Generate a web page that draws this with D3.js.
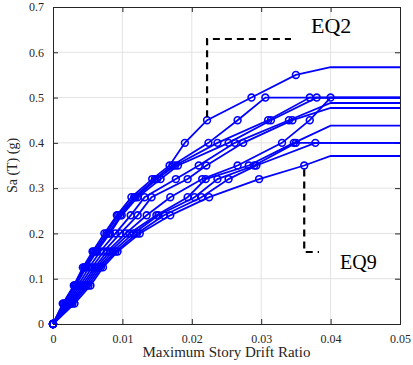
<!DOCTYPE html>
<html>
<head>
<meta charset="utf-8">
<script src="https://cdn.jsdelivr.net/npm/d3@7"></script>
<style>
  body { margin: 0; background: #fff; }
  svg { display: block; font-family: "Liberation Serif", "Times New Roman", serif; }
</style>
</head>
<body>
<svg id="chart" width="413" height="365"></svg>
<script>
// Sa levels of the incremental dynamic analysis
const saLevels = [0, 0.045, 0.085, 0.125, 0.16, 0.2, 0.24, 0.28, 0.32, 0.35, 0.4, 0.45, 0.5, 0.55];

// drift ratio per record at each Sa level
const eq2  = [0, 0.0014, 0.0030, 0.0043, 0.0057, 0.0074, 0.0092, 0.0113, 0.0143, 0.0168, 0.0190, 0.0222, 0.0286, 0.0350];
const rec2 = [0, 0.0015, 0.0031, 0.0045, 0.0059, 0.0077, 0.0094, 0.0117, 0.0147, 0.0172, 0.0224, 0.0266, 0.0306];
const rec3 = [0, 0.0015, 0.0032, 0.0046, 0.0061, 0.0080, 0.0097, 0.0119, 0.0150, 0.0176, 0.0237, 0.0310, 0.0370];
const rec4 = [0, 0.0016, 0.0033, 0.0048, 0.0063, 0.0082, 0.0099, 0.0122, 0.0155, 0.0180, 0.0253, 0.0314, 0.0380];
const rec5 = [0, 0.0018, 0.0036, 0.0052, 0.0068, 0.0090, 0.0112, 0.0132, 0.0177, 0.0210, 0.0262, 0.0340];
const rec6 = [0, 0.0020, 0.0039, 0.0056, 0.0073, 0.0097, 0.0122, 0.0142, 0.0194, 0.0221, 0.0274, 0.0345];
const rec7 = [0, 0.0022, 0.0042, 0.0060, 0.0078, 0.0105, 0.0135, 0.0169, 0.0215, 0.0266, 0.0330, 0.0370, 0.0400];
const rec8 = [0, 0.0024, 0.0045, 0.0063, 0.0082, 0.0110, 0.0149, 0.0194, 0.0220, 0.0282, 0.0347];
const rec9 = [0, 0.0026, 0.0048, 0.0066, 0.0086, 0.0116, 0.0152, 0.0204, 0.0237, 0.0290, 0.0350];
const rec10 = [0, 0.0028, 0.0051, 0.0069, 0.0090, 0.0121, 0.0160, 0.0214, 0.0253, 0.0293, 0.0378];
const eq9  = [0, 0.0031, 0.0054, 0.0072, 0.0093, 0.0125, 0.0169, 0.0225, 0.0297, 0.0362];

const records = [eq2, rec2, rec3, rec4, rec5, rec6, rec7, rec8, rec9, rec10, eq9];
// capacity (flat line) level reached at drift 0.04 and held to 0.05
const flatLevels = [0.567, 0.5, 0.5, 0.5, 0.488, 0.477, 0.5, 0.438, 0.4, 0.4, 0.371];
const flatStart = 0.04, flatEnd = 0.05;

const xTicks = [0, 0.01, 0.02, 0.03, 0.04, 0.05];
const yTicks = [0, 0.1, 0.2, 0.3, 0.4, 0.5, 0.6, 0.7];

const margin = {top: 7, right: 13, bottom: 41, left: 53};
const width = 413 - margin.left - margin.right;
const height = 365 - margin.top - margin.bottom;

const svg = d3.select("#chart");
const g = svg.append("g").attr("transform", `translate(${margin.left},${margin.top})`);

const x = d3.scaleLinear().domain([0, 0.05]).range([0, width]);
const y = d3.scaleLinear().domain([0, 0.7]).range([height, 0]);

// grid
g.append("g").selectAll("line").data(xTicks.slice(1, -1)).join("line")
  .attr("x1", d => x(d)).attr("x2", d => x(d)).attr("y1", 0).attr("y2", height)
  .attr("stroke", "#e3e3e3").attr("stroke-width", 1);
g.append("g").selectAll("line").data(yTicks.slice(1, -1)).join("line")
  .attr("y1", d => y(d)).attr("y2", d => y(d)).attr("x1", 0).attr("x2", width)
  .attr("stroke", "#e3e3e3").attr("stroke-width", 1);

// axes with inward ticks (box style)
const fmt = d => d === 0 ? "0" : d3.format("")(+d.toFixed(2));
const xAxis = g.append("g").attr("transform", `translate(0,${height})`)
  .call(d3.axisBottom(x).tickValues(xTicks).tickSize(-5).tickPadding(10).tickFormat(fmt));
const yAxis = g.append("g")
  .call(d3.axisLeft(y).tickValues(yTicks).tickSize(-5).tickPadding(9).tickFormat(fmt));
const xTop = g.append("g").call(d3.axisTop(x).tickValues(xTicks).tickSize(-5).tickFormat(""));
const yRight = g.append("g").attr("transform", `translate(${width},0)`)
  .call(d3.axisRight(y).tickValues(yTicks).tickSize(-5).tickFormat(""));
[xAxis, yAxis, xTop, yRight].forEach(a => {
  a.selectAll("path, line").attr("stroke", "#262626").attr("stroke-width", 1);
  a.selectAll("text").attr("fill", "#262626").style("font-size", "12px")
    .style("font-family", "'Liberation Serif', serif");
});

// curves
const line = d3.line().x(d => x(d[0])).y(d => y(d[1]));
records.forEach((rec, i) => {
  const pts = rec.map((dr, k) => [dr, saLevels[k]]);
  const last = pts[pts.length - 1];
  const path = pts.slice();
  if (last[0] < flatStart) path.push([flatStart, flatLevels[i]]);
  path.push([flatEnd, flatLevels[i]]);
  g.append("path").datum(path).attr("d", line)
    .attr("fill", "none").attr("stroke", "#0000ff").attr("stroke-width", 1.8);
  g.append("g").selectAll("circle").data(pts).join("circle")
    .attr("cx", d => x(d[0])).attr("cy", d => y(d[1])).attr("r", 3.4)
    .attr("fill", "none").attr("stroke", "#0000ff").attr("stroke-width", 1.6);
});

// annotations
const eq2Pt = [eq2[11], saLevels[11]];
const eq9Pt = [eq9[9], saLevels[9]];
const dash = {"stroke": "#000", "stroke-width": 2.2, "stroke-dasharray": "7,5", "fill": "none"};
const ann1 = g.append("path").attr("d", d3.line()([[x(eq2Pt[0]), y(eq2Pt[1]) - 3], [x(eq2Pt[0]), 32], [238, 32]]));
const ann2 = g.append("path").attr("d", d3.line()([[x(eq9Pt[0]), y(eq9Pt[1]) + 4], [x(eq9Pt[0]), 245], [266, 245]]));
[ann1, ann2].forEach(p => Object.entries(dash).forEach(([k, v]) => p.attr(k, v)));
g.append("text").attr("x", 258).attr("y", 26).text("EQ2")
  .style("font-size", "22px").attr("fill", "#000");
g.append("text").attr("x", 287).attr("y", 262).text("EQ9")
  .style("font-size", "20px").attr("fill", "#000");

// axis labels
svg.append("text").attr("x", margin.left + width / 2).attr("y", 357)
  .attr("text-anchor", "middle").style("font-size", "15px").attr("fill", "#262626")
  .text("Maximum Story Drift Ratio");
svg.append("text").attr("transform", `translate(17,${margin.top + height / 2}) rotate(-90)`)
  .attr("text-anchor", "middle").style("font-size", "14px").attr("fill", "#262626")
  .text("Sa (T) (g)");
</script>
</body>
</html>
